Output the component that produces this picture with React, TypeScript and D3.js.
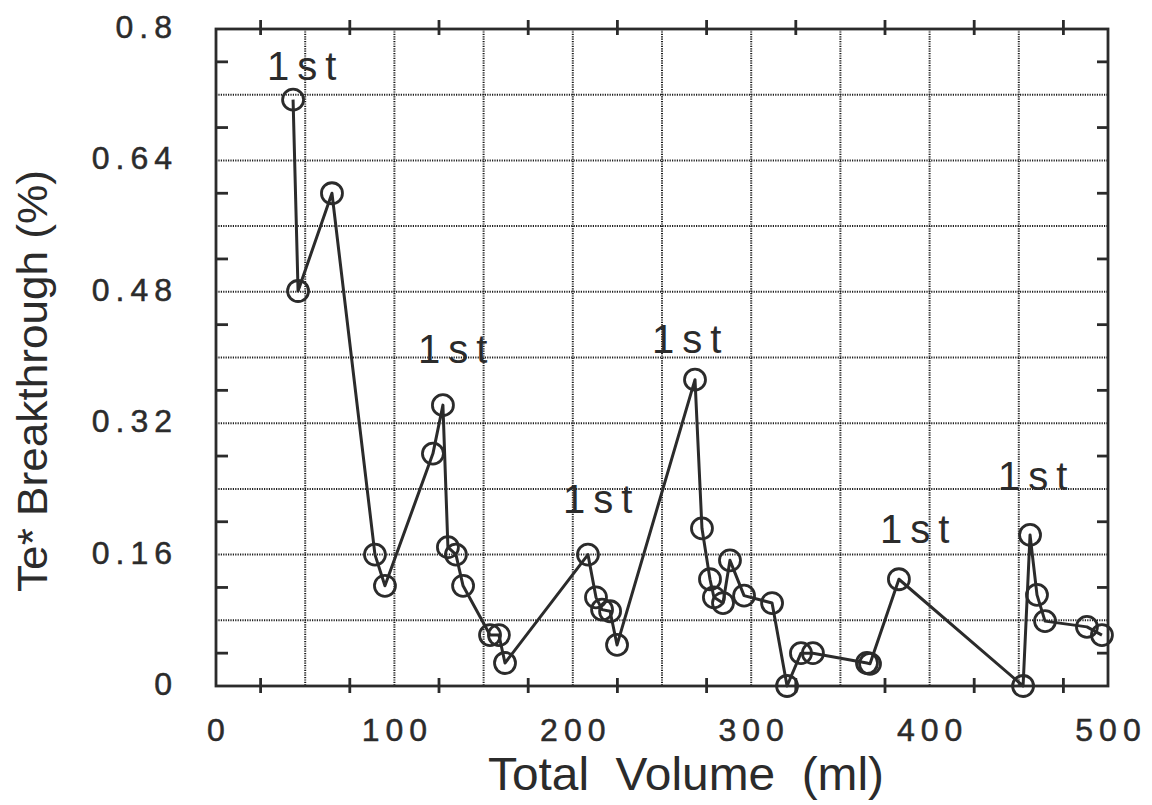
import React from "react";
import * as d3 from "d3";

// Data
const volume = [
  43.2, 46.0, 65.0, 89.1, 94.7, 121.6, 127.2, 130.0, 134.5, 138.5,
  153.6, 158.6, 162.0, 208.5, 213.0, 216.4, 220.9, 224.8, 268.5, 272.4,
  276.9, 279.1, 284.2, 288.1, 296.0, 311.7, 320.1, 327.9, 334.6, 364.9,
  366.6, 382.8, 452.4, 456.3, 460.2, 464.7, 488.2, 496.6,
];
const breakthrough = [
  0.714, 0.481, 0.600, 0.160, 0.122, 0.283, 0.342, 0.169, 0.160, 0.122,
  0.062, 0.062, 0.028, 0.160, 0.108, 0.093, 0.091, 0.050, 0.373, 0.192,
  0.130, 0.108, 0.101, 0.153, 0.110, 0.101, 0.0, 0.040, 0.040, 0.028,
  0.027, 0.130, 0.0, 0.184, 0.111, 0.079, 0.072, 0.062,
];

// "1st" annotations (left x, baseline y) in data units
const labelText = ["1st", "1st", "1st", "1st", "1st", "1st"];
const labelX = [28.6, 113.2, 244.4, 194.5, 372.2, 438.3];
const labelY = [0.738, 0.393, 0.405, 0.211, 0.174, 0.239];

const xTickLabels = [0, 100, 200, 300, 400, 500];
const yTickLabels = [0, 0.16, 0.32, 0.48, 0.64, 0.8];
const xGrid = [50, 100, 150, 200, 250, 300, 350, 400, 450];
const yGrid = [0.08, 0.16, 0.24, 0.32, 0.4, 0.48, 0.56, 0.64, 0.72];
const xMinorTicks = [25, 75, 125, 175, 225, 275, 325, 375, 425, 475];
const yMinorTicks = [0.04, 0.12, 0.2, 0.28, 0.36, 0.44, 0.52, 0.6, 0.68, 0.76];

const xTitle = "Total  Volume  (ml)";
const yTitle = "Te* Breakthrough (%)";

const W = 1152;
const H = 805;
const INK = "#2b2b2b";
const FONT = "'Liberation Sans', Arial, Helvetica, sans-serif";

export default function App() {
  const x = d3.scaleLinear().domain([0, 500]).range([216, 1108]);
  const y = d3.scaleLinear().domain([0, 0.8]).range([686, 29]);
  const [x0, x1] = x.range();
  const [y0, y1] = y.range();

  const pts: [number, number][] = volume.map((v, i) => [x(v), y(breakthrough[i])]);
  const line = d3.line<[number, number]>()(pts) || "";

  const fmtY = (v: number) => (v === 0 ? "0" : String(v));

  return (
    <div style={{ position: "absolute", left: 0, top: 0, background: "#fff" }}>
      <svg width={W} height={H} style={{ display: "block", background: "#fff" }}>
        {/* grid */}
        <g stroke="#1e1e1e" strokeWidth={2} strokeDasharray="1.2 1.2">
          {xGrid.map((g) => (
            <line key={"gx" + g} x1={x(g)} x2={x(g)} y1={y1} y2={y0} />
          ))}
          {yGrid.map((g) => (
            <line key={"gy" + g} x1={x0} x2={x1} y1={y(g)} y2={y(g)} />
          ))}
        </g>

        {/* frame */}
        <rect x={x0} y={y1} width={x1 - x0} height={y0 - y1} fill="none" stroke={INK} strokeWidth={2.8} />

        {/* ticks */}
        <g stroke={INK} strokeWidth={2.8}>
          {xMinorTicks.map((t) => (
            <g key={"tx" + t}>
              <line x1={x(t)} x2={x(t)} y1={y1 - 9} y2={y1 + 6} />
              <line x1={x(t)} x2={x(t)} y1={y0 - 8} y2={y0 + 7} />
            </g>
          ))}
          {yMinorTicks.map((t) => (
            <g key={"ty" + t}>
              <line x1={x0} x2={x0 + 12} y1={y(t)} y2={y(t)} />
              <line x1={x1 - 11} x2={x1} y1={y(t)} y2={y(t)} />
            </g>
          ))}
        </g>

        {/* tick labels */}
        <g fill={INK} stroke={INK} strokeWidth={0.5} fontFamily={FONT} fontSize={32} letterSpacing={6}>
          {xTickLabels.map((t) => (
            <text key={"lx" + t} x={x(t) + 3} y={741} textAnchor="middle">
              {String(t)}
            </text>
          ))}
          {yTickLabels.map((t) => (
            <text key={"ly" + t} x={178} y={y(t) + 9} textAnchor="end">
              {fmtY(t)}
            </text>
          ))}
        </g>

        {/* axis titles */}
        <text
          x={686}
          y={790}
          textAnchor="middle"
          fontFamily={FONT}
          fontSize={46}
          fill={INK}
          textLength={396}
          lengthAdjust="spacingAndGlyphs"
          style={{ whiteSpace: "pre" }}
        >
          {xTitle}
        </text>
        <text
          transform={`translate(47,381) rotate(-90)`}
          textAnchor="middle"
          fontFamily={FONT}
          fontSize={43}
          fill={INK}
          textLength={422}
          lengthAdjust="spacingAndGlyphs"
        >
          {yTitle}
        </text>

        {/* data line */}
        <path d={line} fill="none" stroke={INK} strokeWidth={3} strokeLinejoin="round" />
        <g fill="none" stroke={INK} strokeWidth={2.8}>
          {pts.map((p, i) => (
            <circle key={"c" + i} cx={p[0]} cy={p[1]} r={10.5} />
          ))}
        </g>

        {/* annotations */}
        <g fill={INK} fontFamily={FONT} fontSize={40} letterSpacing={8}>
          {labelText.map((s, i) => (
            <text key={"a" + i} x={x(labelX[i])} y={y(labelY[i])}>
              {s}
            </text>
          ))}
        </g>
      </svg>
    </div>
  );
}
